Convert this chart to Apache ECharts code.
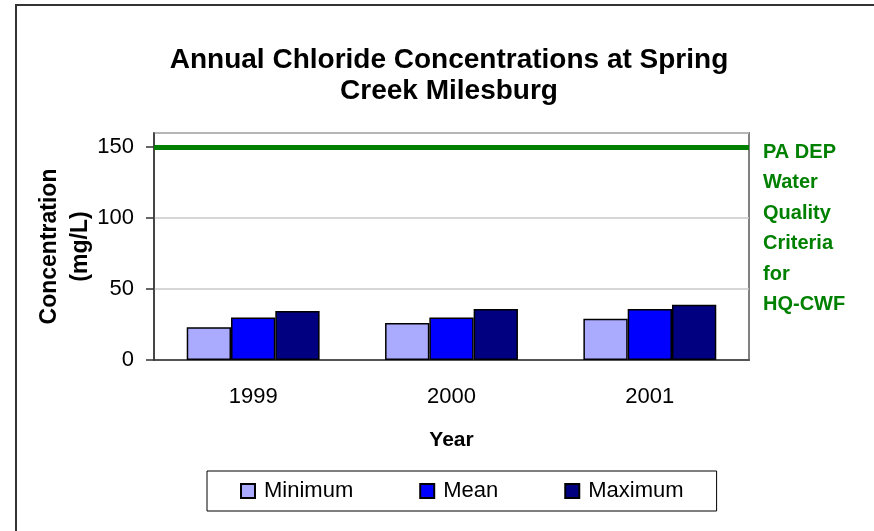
<!DOCTYPE html>
<html>
<head>
<meta charset="utf-8">
<script src="https://cdn.jsdelivr.net/npm/echarts@6/dist/echarts.min.js"></script>
<style>
  html, body { margin: 0; padding: 0; background: #fff; }
  #chart { width: 874px; height: 531px; }
</style>
</head>
<body>
<div id="chart"></div>
<script>
// data
var years = ['1999', '2000', '2001'];
var minimum = [23, 26, 29];
var mean = [30, 30, 36];
var maximum = [34.5, 36, 39];
var criteria = 150; // PA DEP water quality criteria
var criteriaLabel = 'PA DEP\nWater\nQuality\nCriteria\nfor\nHQ-CWF';

var chart = echarts.init(document.getElementById('chart'), null, { renderer: 'canvas' });

var barBorder = { borderColor: '#000', borderWidth: 1.5 };

var option = {
  backgroundColor: '#fff',
  animation: false,
  textStyle: { fontFamily: 'Liberation Sans, Arial, sans-serif', color: '#000' },
  graphic: [{
    type: 'rect',
    shape: { x: 16, y: 5, width: 900, height: 600 },
    style: { fill: 'none', stroke: '#333', lineWidth: 2 },
    silent: true
  }],
  title: {
    text: 'Annual Chloride Concentrations at Spring\nCreek Milesburg',
    left: 444,
    top: 40,
    textAlign: 'center',
    textStyle: { fontSize: 28, fontWeight: 'bold', lineHeight: 31, color: '#000' }
  },
  legend: {
    data: ['Minimum', 'Mean', 'Maximum'],
    left: 207,
    top: 471,
    padding: [9, 33, 9, 33],
    itemGap: 66,
    itemWidth: 14,
    itemHeight: 14,
    icon: 'rect',
    borderColor: '#000',
    borderWidth: 1,
    textStyle: { fontSize: 22, color: '#000', padding: [0, 0, 0, 4] }
  },
  grid: {
    left: 154, right: 125, top: 133, bottom: 171,
    show: true,
    borderColor: '#808080',
    borderWidth: 2
  },
  xAxis: {
    type: 'category',
    data: years,
    name: 'Year',
    nameLocation: 'middle',
    nameGap: 70,
    nameTextStyle: { fontSize: 21, fontWeight: 'bold', color: '#000' },
    axisLine: { lineStyle: { color: '#333', width: 1.5 } },
    axisTick: { length: 8, lineStyle: { color: '#333', width: 1.5 } },
    axisLabel: { fontSize: 22, color: '#000', margin: 26 }
  },
  yAxis: {
    type: 'value',
    min: 0,
    max: 160,
    interval: 50,
    name: 'Concentration\n(mg/L)',
    nameLocation: 'middle',
    nameRotate: 90,
    nameGap: 58,
    nameMoveOverlap: false,
    nameTextStyle: { fontSize: 23, fontWeight: 'bold', color: '#000', lineHeight: 31, padding: [0, 0, 0, 0] },
    axisLine: { show: true, lineStyle: { color: '#333', width: 1.5 } },
    axisTick: { show: true, length: 8, lineStyle: { color: '#333', width: 1.5 } },
    axisLabel: { fontSize: 22, color: '#000', margin: 20, showMaxLabel: false },
    splitLine: { lineStyle: { color: '#c8c8c8', width: 1.5 } }
  },
  series: [
    {
      name: 'Minimum', type: 'bar', data: minimum,
      barGap: '0%', barCategoryGap: '33%',
      itemStyle: Object.assign({ color: '#aaaaff' }, barBorder)
    },
    {
      name: 'Mean', type: 'bar', data: mean,
      barGap: '0%', barCategoryGap: '33%',
      itemStyle: Object.assign({ color: '#0000ff' }, barBorder)
    },
    {
      name: 'Maximum', type: 'bar', data: maximum,
      barGap: '0%', barCategoryGap: '33%',
      itemStyle: Object.assign({ color: '#000080' }, barBorder),
      markLine: {
        silent: true,
        symbol: 'none',
        lineStyle: { color: '#008000', width: 5, type: 'solid' },
        label: {
          position: 'end',
          distance: 14,
          formatter: criteriaLabel,
          color: '#008000',
          fontSize: 20,
          fontWeight: 'bold',
          lineHeight: 30.5,
          align: 'left',
          verticalAlign: 'top',
          offset: [0, -10]
        },
        data: [{ yAxis: criteria }]
      }
    }
  ]
};

chart.setOption(option);
</script>
</body>
</html>
